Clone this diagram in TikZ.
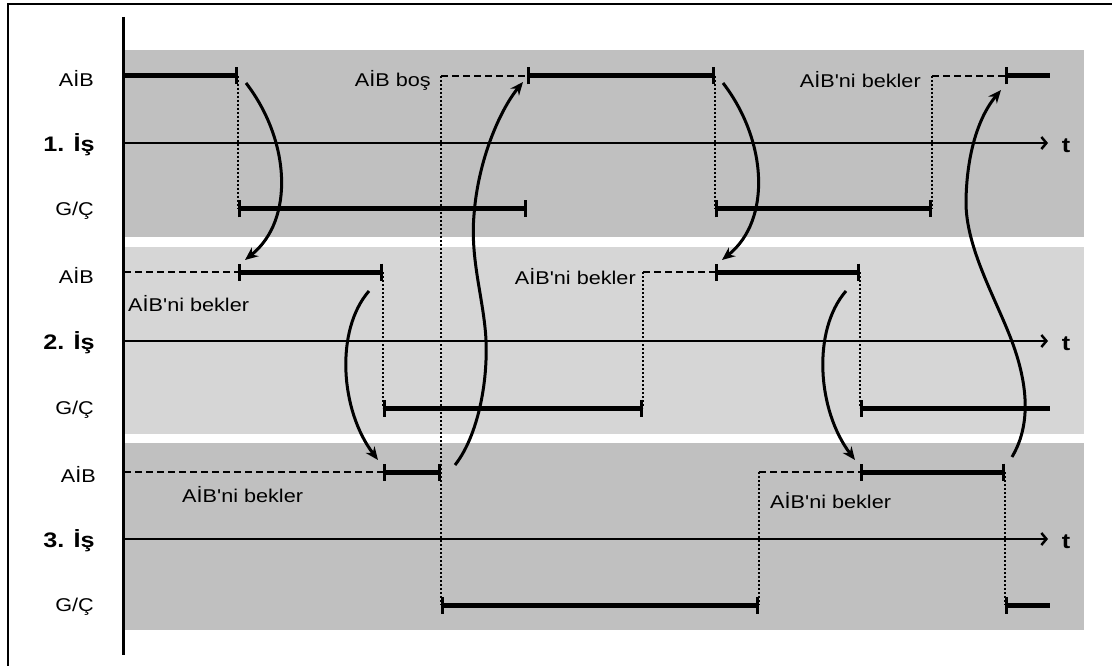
\documentclass[tikz,border=0pt]{standalone}
\usepackage{fontspec}
\setmainfont{Liberation Sans}
\usetikzlibrary{arrows.meta}
\definecolor{bandgray}{RGB}{192,192,192}
\definecolor{bandlight}{RGB}{214,214,214}
\tikzset{
  tk/.tip={Bar[width=17pt,line width=3pt]},
  busy/.style={line width=5pt},
  idle/.style={line width=1.8pt,dash pattern=on 7pt off 4pt},
  link/.style={line width=2pt,dash pattern=on 2pt off 2pt},
  flow/.style={line width=3pt,-{Stealth[length=13pt,width=11pt]}},
  taxis/.style={line width=2pt,-{Straight Barb[length=5pt,width=12pt,line width=2.5pt]}},
  lbl/.style={font=\fontsize{18.5}{22}\selectfont,xscale=1.17,inner sep=0pt},
  job/.style={font=\bfseries\fontsize{21}{25}\selectfont,xscale=1.2,inner sep=0pt},
}

\begin{document}
\begin{tikzpicture}[x=1pt,y=-1pt]
\useasboundingbox (0,0) rectangle (1112,666);
\draw[line width=2.5pt] (8,666) -- (8,4) -- (1112,4);

\fill[bandgray] (124,50) rectangle (1084,237);
\fill[bandlight] (124,247) rectangle (1084,434);
\fill[bandgray] (124,443) rectangle (1084,630);
\draw[line width=3pt] (123,17) -- (123,655);

\node[lbl,anchor=east] (cpu1) at (94,78) {AİB};
\node[job,anchor=east] (job1) at (95,145) {1. İş};
\node[lbl,anchor=east] (io1) at (94,211) {G/Ç};
\node[lbl,anchor=east] (cpu2) at (94,275) {AİB};
\node[job,anchor=east] (job2) at (95,343) {2. İş};
\node[lbl,anchor=east] (io2) at (94,410) {G/Ç};
\node[lbl,anchor=east] (cpu3) at (96,474) {AİB};
\node[job,anchor=east] (job3) at (95,541) {3. İş};
\node[lbl,anchor=east] (io3) at (94,607) {G/Ç};

\draw[taxis] (124,143) -- (1048,143);
\draw[taxis] (124,341) -- (1048,341);
\draw[taxis] (124,539) -- (1048,539);
\node[job] (t1) at (1066,146) {t};
\node[job] (t2) at (1066,344) {t};
\node[job] (t3) at (1066,542) {t};

\draw[link] (238,76) -- (238,209);
\draw[link] (441,76) -- (441,605);
\draw[link] (715,76) -- (715,209);
\draw[link] (932,76) -- (932,209);
\draw[link] (383,272) -- (383,408);
\draw[link] (643,272) -- (643,408);
\draw[link] (860,272) -- (860,408);
\draw[link] (759,472) -- (759,605);
\draw[link] (1005,472) -- (1005,605);

\draw[idle] (441,76) -- (527,76);
\draw[idle] (932,76) -- (1005,76);
\draw[idle] (124,272) -- (238,272);
\draw[idle] (643,272) -- (715,272);
\draw[idle] (124,472) -- (383,472);
\draw[idle] (759,472) -- (860,472);

\draw[busy,-tk] (124,76) -- (238,76);
\draw[busy,tk-tk] (527,76) -- (715,76);
\draw[busy,tk-] (1005,76) -- (1050,76);
\draw[busy,tk-tk] (238,209) -- (527,209);
\draw[busy,tk-tk] (715,209) -- (932,209);
\draw[busy,tk-tk] (238,272) -- (383,272);
\draw[busy,tk-tk] (715,272) -- (860,272);
\draw[busy,tk-tk] (383,408) -- (643,408);
\draw[busy,tk-] (860,408) -- (1050,408);
\draw[busy,tk-tk] (383,472) -- (441,472);
\draw[busy,tk-tk] (860,472) -- (1005,472);
\draw[busy,tk-tk] (441,605) -- (759,605);
\draw[busy,tk-] (1005,605) -- (1050,605);

\node[lbl,anchor=east] (free1) at (431,80) {AİB boş};
\node[lbl,anchor=east] (wait1) at (921,80) {AİB\textquotesingle ni bekler};
\node[lbl,anchor=west] (wait2a) at (128,304) {AİB\textquotesingle ni bekler};
\node[lbl,anchor=east] (wait2b) at (636,277) {AİB\textquotesingle ni bekler};
\node[lbl,anchor=west] (wait3a) at (182,495) {AİB\textquotesingle ni bekler};
\node[lbl,anchor=west] (wait3b) at (770,501) {AİB\textquotesingle ni bekler};

\coordinate (s1) at (246,83);
\coordinate (e1) at (245,260);
\coordinate (s2) at (369,291);
\coordinate (e2) at (378,460);
\coordinate (s3) at (455,465);
\coordinate (e3) at (523,82);
\coordinate (s4) at (723,83);
\coordinate (e4) at (722,260);
\coordinate (s5) at (846,291);
\coordinate (e5) at (855,460);
\coordinate (s6) at (1012,457);
\coordinate (e6) at (1001,90);

\draw[flow] (s1) .. controls (290,140) and (295,220) .. (e1);
\draw[flow] (s2) .. controls (335,330) and (340,410) .. (e2);
\draw[flow] (s3) .. controls (475,440) and (488,390) .. (486,340)
  .. controls (484,300) and (470,260) .. (474,215)
  .. controls (478,160) and (500,110) .. (e3);
\draw[flow] (s4) .. controls (767,140) and (772,220) .. (e4);
\draw[flow] (s5) .. controls (812,330) and (817,410) .. (e5);
\draw[flow] (s6) .. controls (1028,430) and (1030,395) .. (1015,350)
  .. controls (1000,305) and (965,250) .. (966,200)
  .. controls (967,150) and (980,115) .. (e6);
\end{tikzpicture}
\end{document}
